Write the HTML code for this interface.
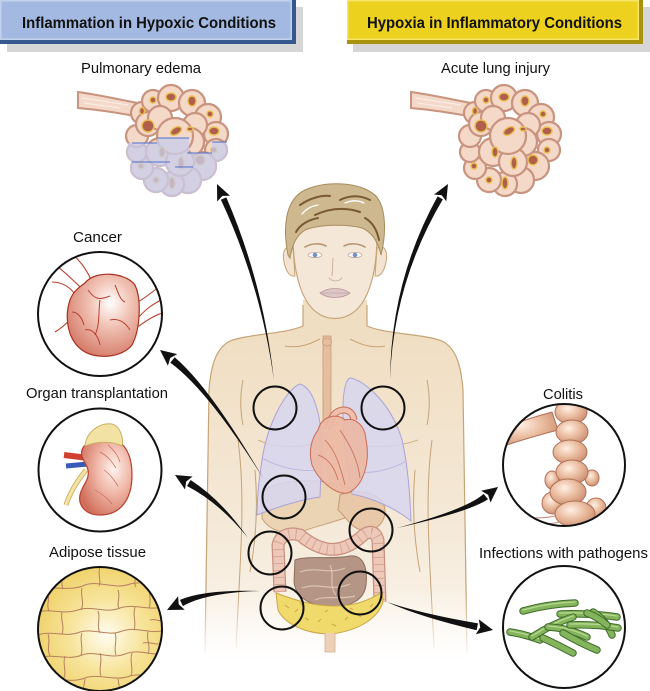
<!DOCTYPE html>
<html><head><meta charset="utf-8">
<style>html,body{margin:0;padding:0;background:#fff;}svg{display:block;}</style>
</head><body>
<svg width="650" height="691" viewBox="0 0 650 691" xmlns="http://www.w3.org/2000/svg" xmlns:xlink="http://www.w3.org/1999/xlink" font-family="'Liberation Sans', Arial, sans-serif">
<defs>
  <linearGradient id="skin" gradientUnits="userSpaceOnUse" x1="0" y1="330" x2="0" y2="660">
    <stop offset="0" stop-color="#f0dec2"/>
    <stop offset="0.55" stop-color="#f4e8d6"/>
    <stop offset="1" stop-color="#fbf6ee"/>
  </linearGradient>
  <linearGradient id="fadeG" gradientUnits="userSpaceOnUse" x1="0" y1="590" x2="0" y2="662">
    <stop offset="0" stop-color="#fff"/>
    <stop offset="1" stop-color="#000"/>
  </linearGradient>
  <mask id="fade"><rect x="0" y="0" width="650" height="691" fill="url(#fadeG)"/></mask>
  <radialGradient id="tumorG" cx="0.6" cy="0.35" r="0.7">
    <stop offset="0" stop-color="#ffffff"/>
    <stop offset="0.4" stop-color="#f1c4b6"/>
    <stop offset="1" stop-color="#d57a68"/>
  </radialGradient>
  <radialGradient id="kidG" cx="0.65" cy="0.4" r="0.7">
    <stop offset="0" stop-color="#fff4ee"/>
    <stop offset="0.5" stop-color="#eeb2a2"/>
    <stop offset="1" stop-color="#d0705c"/>
  </radialGradient>
  <radialGradient id="fatG" cx="0.55" cy="0.55" r="0.6">
    <stop offset="0" stop-color="#fffcf0"/>
    <stop offset="0.5" stop-color="#f7e49a"/>
    <stop offset="1" stop-color="#efd066"/>
  </radialGradient>
  <radialGradient id="colG" cx="0.4" cy="0.35" r="0.7">
    <stop offset="0" stop-color="#fff0e4"/>
    <stop offset="0.55" stop-color="#e8b89a"/>
    <stop offset="1" stop-color="#c98c70"/>
  </radialGradient>
  <clipPath id="cCancer"><circle cx="100" cy="314" r="61"/></clipPath>
  <clipPath id="cOrgan"><circle cx="100" cy="470" r="60.5"/></clipPath>
  <clipPath id="cFat"><circle cx="100" cy="629" r="61"/></clipPath>
  <clipPath id="cCol"><circle cx="564" cy="465" r="60"/></clipPath>
  <clipPath id="cInf"><circle cx="564" cy="627" r="60"/></clipPath>
  <clipPath id="edemaClip">
    <circle cx="142" cy="113" r="12"/><circle cx="153" cy="101" r="12"/><circle cx="171" cy="98" r="14"/>
    <circle cx="192" cy="103" r="14"/><circle cx="208" cy="117" r="14"/><circle cx="216" cy="134" r="13"/>
    <circle cx="216" cy="150" r="12"/><circle cx="202" cy="166" r="15"/><circle cx="188" cy="180" r="14"/>
    <circle cx="172" cy="184" r="13"/><circle cx="156" cy="180" r="13"/><circle cx="142" cy="168" r="12"/>
    <circle cx="137" cy="152" r="11"/><circle cx="137" cy="136" r="12"/><circle cx="148" cy="124" r="13"/>
    <circle cx="195" cy="125" r="13"/><circle cx="160" cy="118" r="13"/><circle cx="190" cy="142" r="15"/>
    <circle cx="160" cy="152" r="15"/><circle cx="180" cy="162" r="15"/><circle cx="175" cy="136" r="19"/>
  </clipPath>
  <g id="cells">
    <path d="M78,92 C100,95 122,100 142,104 L140,117 C120,113 100,110 78,108 Z" fill="#f4d8c8" stroke="#c8937f" stroke-width="2"/>
    <path d="M82,98 L128,105 M84,103 L120,108" stroke="#fff" stroke-width="1" opacity="0.6"/>
    <g fill="#f4d8c8" stroke="#c8937f" stroke-width="2.2">
      <circle cx="142" cy="113" r="11"/><circle cx="153" cy="101" r="11"/><circle cx="171" cy="98" r="13"/>
      <circle cx="192" cy="103" r="13"/><circle cx="208" cy="117" r="13"/><circle cx="216" cy="134" r="12"/>
      <circle cx="216" cy="150" r="11"/><circle cx="202" cy="166" r="14"/><circle cx="188" cy="180" r="13"/>
      <circle cx="172" cy="184" r="12"/><circle cx="156" cy="180" r="12"/><circle cx="142" cy="168" r="11"/>
      <circle cx="137" cy="152" r="10"/><circle cx="137" cy="136" r="11"/><circle cx="148" cy="124" r="12"/>
      <circle cx="195" cy="125" r="12"/><circle cx="160" cy="118" r="12"/><circle cx="190" cy="142" r="14"/>
      <circle cx="160" cy="152" r="14"/><circle cx="180" cy="162" r="14"/><circle cx="175" cy="136" r="18"/>
    </g>
    <g fill="#b0604a" stroke="#e8c050" stroke-width="1.4">
      <ellipse cx="171" cy="97" rx="5" ry="4"/><ellipse cx="153" cy="100" rx="3" ry="3"/>
      <ellipse cx="142" cy="111" rx="2.5" ry="3.5"/><ellipse cx="192" cy="101" rx="4" ry="5"/>
      <ellipse cx="210" cy="114" rx="3" ry="3"/><ellipse cx="214" cy="131" rx="5" ry="4"/>
      <ellipse cx="148" cy="126" rx="6" ry="6"/><ellipse cx="176" cy="131" rx="6" ry="3.5" transform="rotate(-30 176 131)"/>
      <ellipse cx="190" cy="129" rx="3" ry="2"/><ellipse cx="162" cy="152" rx="3" ry="5"/>
      <ellipse cx="200" cy="160" rx="5" ry="5"/><ellipse cx="181" cy="163" rx="3" ry="6"/>
      <ellipse cx="214" cy="150" rx="3" ry="3"/><ellipse cx="172" cy="183" rx="3" ry="6"/>
      <ellipse cx="156" cy="180" rx="3" ry="3"/><ellipse cx="141" cy="166" rx="3" ry="3"/>
    </g>
  </g>
</defs>

<!-- Banners -->
<rect x="7" y="7" width="296" height="45" fill="#d6d6d6"/>
<rect x="0" y="0" width="296" height="44" fill="#35588f"/>
<rect x="0" y="0" width="292" height="40" fill="#c2d2ee"/>
<rect x="1.5" y="1.5" width="289" height="37" fill="#a3b9e1"/>
<text x="149" y="28" text-anchor="middle" font-size="16" font-weight="bold" fill="#111" textLength="254" lengthAdjust="spacingAndGlyphs">Inflammation in Hypoxic Conditions</text>

<rect x="353" y="7" width="297" height="45" fill="#d6d6d6"/>
<rect x="347" y="0" width="296" height="44" fill="#a8920e"/>
<rect x="347" y="0" width="292" height="40" fill="#f6e566"/>
<rect x="348.5" y="1.5" width="289" height="37" fill="#ecd11e"/>
<text x="494.5" y="28" text-anchor="middle" font-size="16" font-weight="bold" fill="#111" textLength="255" lengthAdjust="spacingAndGlyphs">Hypoxia in Inflammatory Conditions</text>

<!-- Labels -->
<g font-size="15" fill="#111" text-anchor="middle">
  <text x="141" y="73" textLength="120" lengthAdjust="spacingAndGlyphs">Pulmonary edema</text>
  <text x="495.5" y="73" textLength="109" lengthAdjust="spacingAndGlyphs">Acute lung injury</text>
  <text x="97.5" y="242" textLength="49" lengthAdjust="spacingAndGlyphs">Cancer</text>
  <text x="97" y="398" textLength="142" lengthAdjust="spacingAndGlyphs">Organ transplantation</text>
  <text x="97.5" y="557" textLength="97" lengthAdjust="spacingAndGlyphs">Adipose tissue</text>
  <text x="563" y="399" textLength="40" lengthAdjust="spacingAndGlyphs">Colitis</text>
  <text x="563.5" y="558" textLength="169" lengthAdjust="spacingAndGlyphs">Infections with pathogens</text>
</g>

<!-- Alveoli -->
<use href="#cells" xlink:href="#cells"/>
<g clip-path="url(#edemaClip)">
  <polygon points="125,143 157,143 157,138 189,138 189,153 212,153 212,142 230,142 230,200 125,200" fill="#c9cdeb" opacity="0.78"/>
</g>
<path d="M132,143 L157,143 M157,138 L189,138 M132,162 L170,162 M187,153 L212,153 M212,142 L227,142 M175,167 L193,167" stroke="#4f6fc8" stroke-width="1"/>
<use href="#cells" xlink:href="#cells" transform="translate(333,0)"/>

<!-- Body -->
<g mask="url(#fade)">
  <path d="M303,300 L303,326 C285,334 248,334 230,341 C216,348 211,365 209,390 L204,662 L468,662 L463,390 C461,365 456,348 442,341 C424,334 385,334 367,326 L367,300 Z" fill="url(#skin)"/>
  <g fill="none" stroke="#c5a476" stroke-width="1.2">
    <path d="M303,305 L303,326 C285,334 248,334 230,341 C216,348 211,365 209,390 L205,652"/>
    <path d="M367,305 L367,326 C385,334 424,334 442,341 C456,348 461,365 463,390 L467,652"/>
    <path d="M243,380 C240,395 240,410 243,425 M238,440 C246,500 240,560 236,648 M427,380 C430,395 430,410 427,425 M432,440 C424,500 430,560 434,648" stroke-width="1"/>
    <path d="M255,470 C258,505 256,540 250,572 M415,470 C412,505 414,540 420,572" stroke-width="1"/>
    <path d="M285,346 C300,349 312,343 320,339 M350,339 C358,343 370,349 385,346" stroke-width="1"/>
    <path d="M258,440 C275,448 300,449 318,442 M350,442 C370,449 395,448 418,440" stroke-width="0.9"/>
  </g>
</g>

<!-- Head -->
<path d="M293,248 C285,244 282,252 284,262 C286,272 290,277 295,276 Z" fill="#f3e3d0" stroke="#c5a476"/>
<path d="M377,248 C385,244 388,252 386,262 C384,272 380,277 375,276 Z" fill="#f3e3d0" stroke="#c5a476"/>
<path d="M293,235 C293,272 301,303 319,314 C329,320 341,320 351,314 C369,303 377,272 377,235 C377,210 360,196 335,196 C310,196 293,210 293,235 Z" fill="#f5e7d8" stroke="#c5a476" stroke-width="1.2"/>
<path d="M288,255 C283,230 284,200 305,190 C325,181 358,181 375,195 C387,207 386,235 381,255 C378,242 372,232 362,228 C348,224 320,224 305,230 C296,236 292,245 290,258 Z" fill="#cdb88f" stroke="#a88c5c"/>
<g fill="none" stroke-linecap="round">
  <path d="M300,205 C310,198 322,195 330,196 M340,200 C350,195 360,195 370,200 M315,215 C330,208 345,207 360,212 M296,232 C300,225 308,220 318,218 M365,218 C372,222 377,230 379,240" stroke="#7a5a30" stroke-width="2"/>
  <path d="M302,214 C306,209 312,206 318,205 M345,203 C352,200 358,200 364,203" stroke="#fff" stroke-width="1.3"/>
  <path d="M305,247 C312,243 320,243 326,246 M344,246 C350,243 358,243 365,247" stroke="#b49870" stroke-width="1.6"/>
  <path d="M333,258 L332,276 M329,278 C333,282 338,282 342,278" stroke="#c4a58a" stroke-width="0.8"/>
</g>
<ellipse cx="315" cy="255" rx="7" ry="2.6" fill="#fff" stroke="#b09080" stroke-width="0.6"/>
<ellipse cx="355" cy="255" rx="7" ry="2.6" fill="#fff" stroke="#b09080" stroke-width="0.6"/>
<circle cx="315" cy="255" r="2.3" fill="#7090c8"/>
<circle cx="355" cy="255" r="2.3" fill="#7090c8"/>
<path d="M320,293 C328,287 342,287 350,293 C342,299 328,299 320,293 Z" fill="#ddc6c6" stroke="#b89a9a" stroke-width="0.8"/>
<path d="M320,293 L350,293" stroke="#b89a9a" stroke-width="0.6"/>

<!-- Organs -->
<rect x="323" y="336" width="8" height="92" fill="#e5bea0" stroke="#c89a78" stroke-width="0.8"/>
<ellipse cx="327" cy="342" rx="4.5" ry="4" fill="#e5bea0" stroke="#c89a78" stroke-width="0.8"/>
<path d="M262,492 C280,478 320,478 345,487 C360,492 368,500 365,510 C350,518 320,525 300,532 C285,535 268,530 262,518 Z" fill="#ead2b0" stroke="#c49a72" opacity="0.9"/>
<path d="M340,495 C355,488 378,492 384,505 C388,520 378,532 362,530 C350,528 345,515 338,510 Z" fill="#e8c8a8" stroke="#c49a72"/>
<path d="M300,384 C288,388 268,420 262,460 C258,485 257,500 257,515 C275,508 298,500 320,497 L322,440 C320,415 314,388 300,384 Z" fill="#d7d6f0" fill-opacity="0.85" stroke="#aaa2d6"/>
<path d="M350,378 C365,380 392,405 402,440 C408,465 410,495 411,521 C395,508 372,498 352,494 L344,440 C342,410 342,382 350,378 Z" fill="#d7d6f0" fill-opacity="0.85" stroke="#aaa2d6"/>
<path d="M262,458 C280,468 300,472 318,470 M346,470 C365,475 385,472 405,462" stroke="#b8b0dc" fill="none" stroke-width="0.8"/>
<path d="M330,426 C330,408 352,404 354,420" fill="none" stroke="#c86a55" stroke-width="7"/>
<path d="M330,426 C330,408 352,404 354,420" fill="none" stroke="#efc0ac" stroke-width="5"/>
<path d="M318,430 C322,415 338,413 345,420 C355,417 365,425 366,440 C370,460 365,485 348,493 C335,495 318,480 312,465 C308,450 312,438 318,430 Z" fill="#ecb8a4" fill-opacity="0.92" stroke="#c86a55"/>
<path d="M325,440 C335,450 340,465 345,485 M340,430 C350,445 358,460 360,478 M318,455 C328,458 335,468 338,480" fill="none" stroke="#c86a55" stroke-width="0.8"/>
<!-- intestines -->
<path d="M295,560 C310,555 330,560 350,556 C362,555 368,565 366,585 C364,600 350,608 330,606 C310,606 296,598 294,582 Z" fill="#b59585" stroke="#8c6c5c"/>
<path d="M300,572 C315,566 330,575 345,568 M302,588 C318,582 332,592 350,584 M315,600 C325,595 340,600 355,596 M330,565 C335,575 328,585 336,595" fill="none" stroke="#dcc4b4" stroke-width="1.2"/>
<path d="M280,592 L278,545 C280,535 290,532 300,535 C320,552 340,555 360,538 C368,530 375,530 378,540 L380,602" fill="none" stroke="#c89080" stroke-width="13"/>
<path d="M280,592 L278,545 C280,535 290,532 300,535 C320,552 340,555 360,538 C368,530 375,530 378,540 L380,602" fill="none" stroke="#eec8b8" stroke-width="10.5"/>
<path d="M280,592 L278,545 C280,535 290,532 300,535 C320,552 340,555 360,538 C368,530 375,530 378,540 L380,602" fill="none" stroke="#d4a898" stroke-width="10" stroke-dasharray="1 6"/>
<path d="M276,593 C290,598 310,606 335,606 C355,606 370,600 382,592 L383,602 C378,618 360,630 332,634 C305,634 285,624 278,610 Z" fill="#f1da6c" stroke="#c9a548"/>
<path d="M285,605 l4,3 M295,612 l3,-3 M305,618 l4,2 M318,622 l3,-3 M332,624 l4,2 M345,620 l3,-3 M358,615 l3,2 M370,607 l3,-3 M300,603 l3,2 M325,612 l3,-2 M350,608 l3,2" stroke="#c9a548" stroke-width="1"/>
<path d="M325,633 L325,652 L335,652 L335,633" fill="#ecd0b8" stroke="#d0b090" stroke-width="0.8"/>

<!-- body circles -->
<g fill="none" stroke="#111" stroke-width="2">
  <circle cx="275" cy="408" r="21.5"/><circle cx="383" cy="408" r="21.5"/>
  <circle cx="284" cy="497" r="21.5"/><circle cx="270" cy="553" r="21.5"/>
  <circle cx="371" cy="530" r="21.5"/><circle cx="360" cy="593" r="21.5"/>
  <circle cx="282" cy="608" r="21.5"/>
</g>

<!-- Cancer inset -->
<circle cx="100" cy="314" r="62" fill="#fff"/>
<g clip-path="url(#cCancer)">
  <g fill="none" stroke="#b84030" stroke-width="1.1">
    <path d="M50,262 C62,268 75,283 84,290 M52,282 C66,282 76,292 78,302 M68,250 C80,260 88,272 92,282 M55,332 C62,328 68,322 72,318"/>
    <path d="M165,298 C152,304 145,310 138,318 M165,312 C152,316 145,322 136,328 M160,286 C150,294 142,300 136,303"/>
  </g>
  <path d="M85,283 C95,270 125,272 135,285 C142,300 140,330 132,345 C122,358 95,360 82,350 C68,340 64,318 70,300 C73,292 78,288 85,283 Z" fill="url(#tumorG)" stroke="#a83020" stroke-width="1.2"/>
  <path d="M88,290 C95,300 100,300 110,296 M100,300 C98,315 100,325 95,335 M110,320 C118,318 125,322 130,330 M85,330 C92,328 98,335 100,345 M115,285 C118,292 120,300 125,302 M72,312 C78,312 82,318 84,325" fill="none" stroke="#b84030" stroke-width="1"/>
</g>
<circle cx="100" cy="314" r="62" fill="none" stroke="#111" stroke-width="2"/>

<!-- Organ inset -->
<circle cx="100" cy="470" r="61.5" fill="#fff"/>
<g clip-path="url(#cOrgan)">
  <path d="M86,470 C78,480 70,492 66,505" fill="none" stroke="#c8a850" stroke-width="5"/>
  <path d="M86,470 C78,480 70,492 66,505" fill="none" stroke="#f2e2a8" stroke-width="3.4"/>
  <path d="M64,455 L88,458" stroke="#d04030" stroke-width="6"/>
  <path d="M66,466 L88,464" stroke="#3a5ab8" stroke-width="5"/>
  <path d="M95,440 C115,432 132,445 132,475 C132,500 120,515 100,515 C85,515 78,505 80,495 C82,485 90,480 88,470 C86,462 80,458 82,450 C84,444 89,442 95,440 Z" fill="url(#kidG)" stroke="#b84030" stroke-width="1.2"/>
  <path d="M100,452 C108,456 112,462 116,468 M104,470 C110,474 114,480 118,486 M95,490 C102,494 108,498 112,504 M108,445 C114,450 118,455 120,462" fill="none" stroke="#c86858" stroke-width="0.7"/>
  <path d="M85,446 C86,432 100,422 112,424 C120,426 124,438 122,446 C110,440 95,442 85,446 Z" fill="#f2e2a4" stroke="#c8b060"/>
</g>
<circle cx="100" cy="470" r="61.5" fill="none" stroke="#111" stroke-width="2"/>

<!-- Adipose inset -->
<circle cx="100" cy="629" r="62" fill="url(#fatG)"/>
<g clip-path="url(#cFat)" fill="none" stroke="#b5805f" stroke-width="1">
  <path d="M38,590 C55,585 70,592 85,585 C100,580 115,590 130,584 C145,580 155,588 165,585"/>
  <path d="M38,612 C50,608 62,615 78,610 C92,605 105,614 120,608 C135,603 150,612 165,606"/>
  <path d="M38,635 C52,630 65,638 80,632 C95,628 108,637 122,631 C138,626 150,635 165,630"/>
  <path d="M38,658 C52,653 68,661 82,655 C96,650 110,660 125,654 C140,648 152,657 165,653"/>
  <path d="M38,680 C55,676 70,684 85,678 C100,673 115,682 130,676 C145,672 155,680 165,676"/>
  <path d="M62,568 C64,576 60,582 63,589 M100,567 C97,575 102,582 99,586 M135,570 C137,578 133,583 136,587"/>
  <path d="M48,592 C50,600 46,605 49,611 M82,588 C80,596 85,603 81,610 M118,590 C121,597 116,603 119,609 M150,586 C148,594 152,600 149,608"/>
  <path d="M62,612 C60,620 65,626 62,634 M98,611 C101,619 96,626 100,633 M135,607 C132,616 137,622 134,630"/>
  <path d="M48,634 C51,642 46,648 50,656 M82,633 C79,641 84,648 81,655 M115,633 C118,640 113,647 116,655 M148,632 C146,640 151,646 148,654"/>
  <path d="M65,656 C62,664 67,670 64,678 M100,653 C103,661 98,668 101,676 M132,653 C129,661 134,668 131,676"/>
  <path d="M50,680 L52,691 M85,679 L83,691 M118,679 L120,691 M148,676 L150,690"/>
  <path d="M150,620 C156,618 160,623 166,620 M143,643 C150,641 155,646 162,643"/>
</g>
<circle cx="100" cy="629" r="62" fill="none" stroke="#111" stroke-width="2"/>

<!-- Colitis inset -->
<circle cx="564" cy="465" r="61" fill="#fff"/>
<g clip-path="url(#cCol)" fill="url(#colG)" stroke="#b07058" stroke-width="1">
  <path d="M495,432 C510,425 530,418 552,412 L558,430 C535,436 515,442 498,448 Z"/>
  <ellipse cx="585" cy="397" rx="14" ry="10"/>
  <ellipse cx="571" cy="412" rx="16" ry="12"/>
  <ellipse cx="572" cy="432" rx="16" ry="12"/>
  <ellipse cx="552" cy="480" rx="7" ry="9"/>
  <ellipse cx="592" cy="478" rx="7" ry="8"/>
  <ellipse cx="570" cy="452" rx="17" ry="12"/>
  <ellipse cx="572" cy="472" rx="16" ry="12"/>
  <ellipse cx="553" cy="503" rx="11" ry="11"/>
  <ellipse cx="596" cy="508" rx="10" ry="10"/>
  <ellipse cx="568" cy="492" rx="18" ry="13"/>
  <ellipse cx="575" cy="514" rx="20" ry="13"/>
  <path d="M515,522 C525,515 540,520 555,516 M520,528 C530,522 545,526 560,522" fill="none" stroke="#c89080"/>
</g>
<circle cx="564" cy="465" r="61" fill="none" stroke="#111" stroke-width="2"/>

<!-- Infections inset -->
<circle cx="564" cy="627" r="61" fill="#fff"/>
<g clip-path="url(#cInf)" fill="none" stroke-linecap="round">
  <g><path d="M523,611 Q548,604 575,603" stroke="#3e6b2a" stroke-width="7.5"/><path d="M523,611 Q548,604 575,603" stroke="#84b45c" stroke-width="5.5"/><path d="M523,610 Q548,603 575,602" stroke="#b8d890" stroke-width="1.3"/></g>
  <g><path d="M560,614 Q590,613 617,617" stroke="#3e6b2a" stroke-width="7.5"/><path d="M560,614 Q590,613 617,617" stroke="#84b45c" stroke-width="5.5"/><path d="M560,613 Q590,612 617,616" stroke="#b8d890" stroke-width="1.3"/></g>
  <g><path d="M593,612 Q606,620 612,635" stroke="#3e6b2a" stroke-width="7.5"/><path d="M593,612 Q606,620 612,635" stroke="#84b45c" stroke-width="5.5"/></g>
  <g><path d="M510,632 Q524,634 540,640" stroke="#3e6b2a" stroke-width="7.5"/><path d="M510,632 Q524,634 540,640" stroke="#84b45c" stroke-width="5.5"/><path d="M510,631 Q524,633 540,639" stroke="#b8d890" stroke-width="1.3"/></g>
  <g><path d="M532,637 Q552,624 573,617" stroke="#3e6b2a" stroke-width="7.5"/><path d="M532,637 Q552,624 573,617" stroke="#84b45c" stroke-width="5.5"/><path d="M532,636 Q552,623 573,616" stroke="#b8d890" stroke-width="1.3"/></g>
  <g><path d="M543,638 Q558,645 573,653" stroke="#3e6b2a" stroke-width="7.5"/><path d="M543,638 Q558,645 573,653" stroke="#84b45c" stroke-width="5.5"/></g>
  <g><path d="M548,627 Q568,628 587,637" stroke="#3e6b2a" stroke-width="7.5"/><path d="M548,627 Q568,628 587,637" stroke="#84b45c" stroke-width="5.5"/><path d="M548,626 Q568,627 587,636" stroke="#b8d890" stroke-width="1.3"/></g>
  <g><path d="M563,633 Q580,643 597,650" stroke="#3e6b2a" stroke-width="7.5"/><path d="M563,633 Q580,643 597,650" stroke="#84b45c" stroke-width="5.5"/></g>
  <g><path d="M570,625 Q595,624 618,628" stroke="#3e6b2a" stroke-width="7.5"/><path d="M570,625 Q595,624 618,628" stroke="#84b45c" stroke-width="5.5"/><path d="M570,624 Q595,623 618,627" stroke="#b8d890" stroke-width="1.3"/></g>
  <g><path d="M587,613 Q598,617 607,625" stroke="#3e6b2a" stroke-width="7.5"/><path d="M587,613 Q598,617 607,625" stroke="#84b45c" stroke-width="5.5"/></g>
</g>
<circle cx="564" cy="627" r="61" fill="none" stroke="#111" stroke-width="2"/>

<!-- Arrows -->
<g fill="#111">
  <path d="M274,381 Q263.8,284.2 226.3,197.4 L220.9,199.8 Q261.0,285.4 274,381 Z"/>
  <path d="M217,184 L230,195.7 L222.4,195.9 L217.2,201.5 Z"/>
  <path d="M390,380 Q393.3,282.7 442.8,199.4 L437.6,196.4 Q390.7,281.3 390,380 Z"/>
  <path d="M448,184 L446.3,201.3 L441.7,195.3 L434.1,194.5 Z"/>
  <path d="M263,478 Q210.3,387.6 174.7,357.2 L170.3,362.6 Q208.1,390.4 263,478 Z"/>
  <path d="M160,350 L177.2,354.1 L170.2,358 L167.9,365.8 Z"/>
  <path d="M248,538 Q221.7,500.1 190.6,480 L187,486 Q219.9,503.1 248,538 Z"/>
  <path d="M175,475 L192.6,476.5 L186.2,481.5 L185,489.5 Z"/>
  <path d="M260,591 Q206.7,592.6 182.9,606.1 L179.9,599.9 Q205.1,589.4 260,591 Z"/>
  <path d="M167,610 L184.7,609.7 L178.7,604.3 L178.1,596.3 Z"/>
  <path d="M397,528 Q469.7,511.7 488,499.3 L483.6,493.9 Q467.5,508.9 397,528 Z"/>
  <path d="M498,487 L490.5,502.5 L488.1,494.7 L481.1,490.8 Z"/>
  <path d="M387,602 Q420.2,617 476.6,630.2 L478,623.4 Q420.9,613.6 387,602 Z"/>
  <path d="M493,630 L475.8,634.2 L480.2,627.4 L478.8,619.4 Z"/>
</g>
</svg>
</body></html>
